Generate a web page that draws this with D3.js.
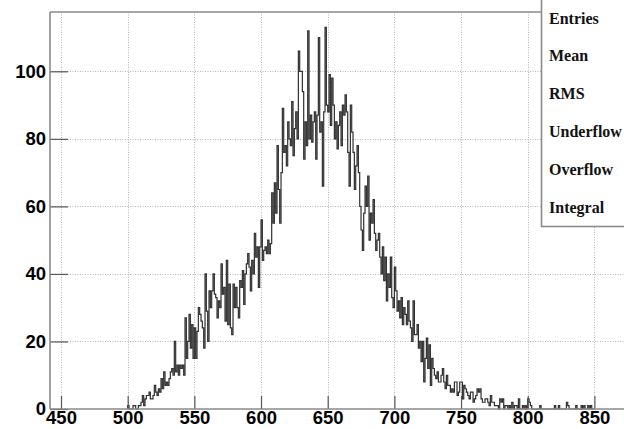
<!DOCTYPE html>
<html>
<head>
<meta charset="utf-8">
<script src="https://cdn.jsdelivr.net/npm/d3@7"></script>
<style>
  html, body { margin: 0; padding: 0; background: #fff; }
  svg { display: block; }
</style>
</head>
<body>
<script>
// Histogram contents: one count per unit-wide bin, starting at firstBin.
const firstBin = 500;
const binWidth = 1;
const counts = [
  // 500-549
  1,0,0,0,1,1,0,0,1,1, 2,4,1,3,4,4,5,3,3,4, 7,5,4,6,5,9,6,11,7,8,
  7,9,11,12,10,20,11,13,10,13, 12,13,10,27,15,20,28,18,25,15,
  // 550-599
  24,15,23,30,28,26,24,18,40,29, 20,35,30,35,40,34,33,27,32,30,
  43,34,36,26,44,25,37,24,22,37, 30,36,30,27,38,36,41,31,40,43,
  46,42,35,44,40,52,45,48,36,48,
  // 600-649
  56,44,47,48,46,50,46,49,64,55, 67,58,78,65,55,70,89,76,78,72,
  85,80,78,91,75,83,88,80,106,100, 100,94,74,85,78,112,80,87,79,85,
  88,74,87,110,82,85,66,88,113,90,
  // 650-699
  88,99,84,98,90,80,85,77,84,88, 78,90,87,93,88,76,66,90,82,76,
  65,72,78,70,60,53,47,58,66,60, 69,50,58,55,62,52,47,50,52,45,
  40,48,38,45,32,40,36,45,33,30,
  // 700-749
  42,35,29,32,27,33,25,30,28,25, 32,26,24,20,32,22,22,25,18,20,
  14,20,8,15,21,12,19,7,15,12, 10,9,11,8,8,10,12,8,6,10,
  7,7,5,6,5,8,8,4,5,8,
  // 750-799
  8,3,7,6,5,4,3,5,5,2, 3,4,6,5,6,3,2,2,3,3,
  2,1,4,2,2,1,1,1,0,3, 2,3,0,1,1,0,1,0,2,0,
  1,1,0,3,0,0,1,0,1,0,
  // 800-849
  3,2,1,0,0,0,0,0,0,1, 0,0,0,0,0,0,0,0,0,0,
  1,0,0,1,0,0,0,0,0,2, 1,0,0,0,0,0,1,0,0,0,
  1,0,1,0,0,1,0,1,0,0
];

const xMajorTicks = [450, 500, 550, 600, 650, 700, 750, 800, 850];
const yMajorTicks = [0, 20, 40, 60, 80, 100];
const statNames = ["Entries", "Mean", "RMS", "Underflow", "Overflow", "Integral"];

const W = 624, H = 429;
const frame = { left: 50, top: 12, right: 624, bottom: 409 };

const svg = d3.select("body").append("svg")
  .attr("width", W).attr("height", H)
  .style("background", "#fff");

const x = d3.scaleLinear().domain([441.75, 872.2]).range([frame.left, frame.right]);
const y = d3.scaleLinear().domain([0, 117.56]).range([frame.bottom, frame.top]);

const xMinor = d3.range(450, 871, 10);
const yMinor = d3.range(0, 116, 5);

// Dotted grid at the major ticks
const grid = svg.append("g").attr("stroke", "#b4b4b4").attr("stroke-width", 1)
  .attr("stroke-dasharray", "1,1.5").attr("fill", "none");
grid.selectAll("line.gx").data(xMajorTicks).join("line")
  .attr("x1", d => Math.round(x(d)) + 0.5).attr("x2", d => Math.round(x(d)) + 0.5)
  .attr("y1", frame.top).attr("y2", frame.bottom);
grid.selectAll("line.gy").data(yMajorTicks.filter(d => d > 0)).join("line")
  .attr("y1", d => Math.round(y(d)) + 0.5).attr("y2", d => Math.round(y(d)) + 0.5)
  .attr("x1", frame.left).attr("x2", frame.right);

// Histogram outline as a staircase
const pts = [[x(firstBin), y(0)]];
counts.forEach((c, i) => {
  const lo = firstBin + i * binWidth, hi = lo + binWidth;
  pts.push([x(lo), y(c)], [x(hi), y(c)]);
});
pts.push([x(firstBin + counts.length * binWidth), y(0)]);
svg.append("path")
  .attr("d", d3.line()(pts))
  .attr("fill", "none").attr("stroke", "#303030").attr("stroke-width", 1.2);

const fontFam = "'Liberation Sans', Arial, Helvetica, sans-serif";

// X axis: major and minor ticks pointing into the frame
const gx = svg.append("g").attr("transform", `translate(0,${frame.bottom})`);
gx.call(d3.axisBottom(x).tickValues(xMinor).tickSize(-6).tickFormat(""));
gx.call(d3.axisBottom(x).tickValues(xMajorTicks).tickSize(-13).tickPadding(2)
  .tickFormat(d3.format("d")));
gx.selectAll(".domain").remove();

// Y axis
const gy = svg.append("g").attr("transform", `translate(${frame.left},0)`);
gy.call(d3.axisLeft(y).tickValues(yMinor).tickSize(-11).tickFormat(""));
gy.call(d3.axisLeft(y).tickValues(yMajorTicks).tickSize(-18).tickPadding(4)
  .tickFormat(d3.format("d")));
gy.selectAll(".domain").remove();

svg.selectAll(".tick line").attr("stroke", "#555").attr("stroke-width", 1.2);
svg.selectAll(".tick text")
  .attr("fill", "#000")
  .style("font-family", fontFam)
  .style("font-weight", "bold")
  .style("font-size", "18.5px");

// Frame
const fr = svg.append("g").attr("stroke", "#8a8a8a").attr("stroke-width", 1.6).attr("fill", "none");
fr.append("line").attr("x1", frame.left).attr("x2", frame.left).attr("y1", frame.top).attr("y2", frame.bottom);
fr.append("line").attr("x1", frame.left).attr("x2", frame.right).attr("y1", frame.top).attr("y2", frame.top);
fr.append("line").attr("x1", frame.left).attr("x2", frame.right).attr("y1", frame.bottom).attr("y2", frame.bottom);

// Statistics box
const box = svg.append("g");
box.append("rect")
  .attr("x", 541.5).attr("y", -2).attr("width", 100).attr("height", 228.5)
  .attr("fill", "#fff").attr("stroke", "#8a8a8a").attr("stroke-width", 1.6);
box.selectAll("text").data(statNames).join("text")
  .attr("x", 549)
  .attr("y", (d, i) => 23.5 + i * 37.8)
  .text(d => d)
  .style("font-family", "'Liberation Serif', 'Times New Roman', serif")
  .style("font-weight", "bold")
  .style("font-size", "16px")
  .attr("fill", "#111");
</script>
</body>
</html>
